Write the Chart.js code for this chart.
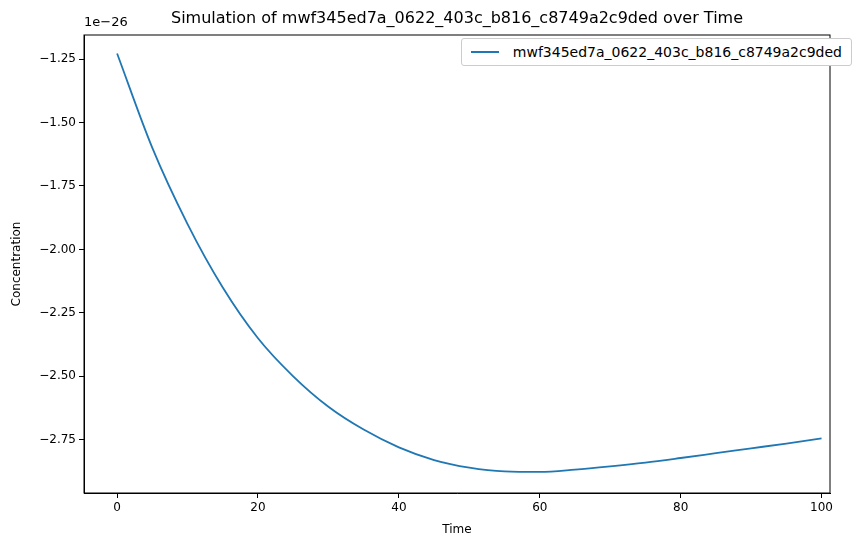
<!DOCTYPE html>
<html lang="en">
<head>
<meta charset="UTF-8">
<title>Simulation</title>
<script src="https://cdn.jsdelivr.net/npm/chart.js"></script>
<style>
  body { margin: 0; background: #fff; font-family: "DejaVu Sans", sans-serif; }
  #wrap { position: relative; width: 866px; height: 547px; }
  #title { position: absolute; top: 8px; left: 84px; width: 746px; text-align: center; font-size: 16px; color: #000; }
  #offset { position: absolute; top: 14px; left: 84px; font-size: 13px; color: #000; }
  #legend { position: absolute; top: 38px; right: 14px; border: 1px solid #ccc; border-radius: 3px; padding: 5px 9px; font-size: 14px; background: #fff; display: flex; align-items: center; }
  #legend span.line { display: inline-block; width: 28px; height: 2px; background: #1f77b4; margin-right: 14px; }
</style>
</head>
<body>
<div id="wrap">
  <canvas id="c" width="866" height="547"></canvas>
  <div id="title">Simulation of mwf345ed7a_0622_403c_b816_c8749a2c9ded over Time</div>
  <div id="offset">1e−26</div>
  <div id="legend"><span class="line"></span>mwf345ed7a_0622_403c_b816_c8749a2c9ded</div>
</div>
<script>
// concentration in units of 1e-26
const times = [0, 5, 10, 15, 20, 25, 30, 35, 40, 45, 50, 55, 60, 65, 70, 75, 80, 85, 90, 95, 100];
const concentration = [-1.228, -1.60, -1.90, -2.15, -2.35, -2.50, -2.62, -2.71, -2.78, -2.83, -2.86, -2.875, -2.877, -2.868, -2.855, -2.840, -2.822, -2.803, -2.784, -2.765, -2.745];

const tickFont = { family: "DejaVu Sans", size: 12 };
new Chart(document.getElementById("c"), {
  type: "scatter",
  data: {
    datasets: [{
      data: times.map((t, i) => ({ x: t, y: concentration[i] })),
      showLine: true,
      borderColor: "#1f77b4",
      borderWidth: 1.8,
      pointRadius: 0,
      cubicInterpolationMode: "monotone"
    }]
  },
  options: {
    responsive: false,
    animation: false,
    layout: { padding: { top: 35, right: 36, left: 8, bottom: 0 } },
    plugins: { legend: { display: false }, tooltip: { enabled: false } },
    scales: {
      x: {
        type: "linear", min: -4.7, max: 101.2,
        afterFit: s => { s.height = 54; },
        afterBuildTicks: s => { s.ticks = [0, 20, 40, 60, 80, 100].map(v => ({ value: v })); },
        title: { display: true, text: "Time", color: "#000", font: tickFont, padding: { top: 0, bottom: 10 } },
        ticks: { color: "#000", font: tickFont },
        grid: { drawOnChartArea: false, tickLength: 5, color: "#000" },
        border: { color: "#000" }
      },
      y: {
        min: -2.96, max: -1.155,
        afterFit: s => { s.width = 76; },
        afterBuildTicks: s => { s.ticks = [-2.75, -2.5, -2.25, -2.0, -1.75, -1.5, -1.25].map(v => ({ value: v })); },
        title: { display: true, text: "Concentration", color: "#000", font: tickFont, padding: 2 },
        ticks: { color: "#000", font: tickFont, callback: v => v.toFixed(2).replace("-", "−") },
        grid: { drawOnChartArea: false, tickLength: 5, color: "#000" },
        border: { color: "#000" }
      }
    }
  },
  plugins: [{
    id: "frame",
    afterDraw(chart) {
      const { ctx, chartArea: a } = chart;
      ctx.save();
      ctx.strokeStyle = "#000";
      ctx.lineWidth = 1;
      ctx.strokeRect(a.left, a.top, a.right - a.left, a.bottom - a.top);
      ctx.restore();
    }
  }]
});
</script>
</body>
</html>
